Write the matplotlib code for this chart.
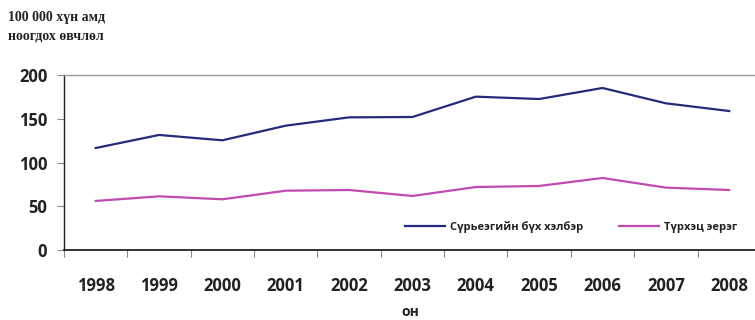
import matplotlib
matplotlib.use("Agg")
import matplotlib.pyplot as plt

years = ["1998", "1999", "2000", "2001", "2002", "2003", "2004", "2005", "2006", "2007", "2008"]
all_forms = [116.7, 131.6, 125.5, 142.2, 151.7, 152.1, 175.3, 172.6, 185.2, 167.7, 158.9]
pulmonary = [56.3, 61.6, 58.2, 68.0, 68.8, 62.0, 72.2, 73.4, 82.5, 71.5, 68.8]
series_names = ["Сүрьеэгийн бүх хэлбэр", "Түрхэц эерэг"]
y_ticks = [0, 50, 100, 150, 200]

SANS = ["Open Sans", "DejaVu Sans"]

fig = plt.figure(figsize=(7.55, 3.2), dpi=100)
ax = fig.add_axes([0.0848, 0.2178, 0.923, 0.5478])

x = list(range(len(years)))
ax.plot(x, all_forms, color="#242B7B", lw=1.6, label=series_names[0])
ax.plot(x, pulmonary, color="#C24BAF", lw=1.6, label=series_names[1])

ax.set_xlim(-0.5, len(years) - 0.5)
ax.set_ylim(0, 200)

ax.set_xticks([i - 0.5 for i in range(len(years) + 1)])
ax.set_xticklabels([])
ax.set_xticks(x, minor=True)
ax.set_xticklabels(years, minor=True, fontsize=12, fontweight="bold", family=SANS, color="#222222")
ax.tick_params(axis="x", which="major", length=5, color="#888888", width=0.8, direction="out")
ax.tick_params(axis="x", which="minor", length=0, pad=19)

ax.set_yticks(y_ticks)
ax.set_yticklabels([str(v) for v in y_ticks], fontsize=12, fontweight="bold", family=SANS, color="#222222")
ax.tick_params(axis="y", length=5, color="#888888", width=0.8, pad=7)

ax.spines["left"].set_color("#222222")
ax.spines["left"].set_linewidth(1.0)
ax.spines["bottom"].set_color("#222222")
ax.spines["bottom"].set_linewidth(1.3)
ax.spines["top"].set_color("#999999")
ax.spines["top"].set_linewidth(1.0)
ax.spines["right"].set_visible(False)

leg = ax.legend(loc="center left", bbox_to_anchor=(0.489, 0.131), ncol=2, frameon=False,
                prop={"family": SANS, "weight": "bold", "size": 8},
                handlelength=3.6, columnspacing=3.2, handletextpad=0.45,
                borderaxespad=0, borderpad=0)
for t in leg.get_texts():
    t.set_color("#222222")

fig.text(0.011, 0.965, "100 000 хүн амд\nноогдох өвчлөл", ha="left", va="top",
         family=["Liberation Serif", "DejaVu Serif"], fontweight="bold", fontsize=10,
         color="#222222", linespacing=1.5)

fig.text(0.543, 0.025, "он", ha="center", va="center", family=SANS,
         fontweight="bold", fontsize=10, color="#222222")

fig.savefig("out.png", dpi=100)
